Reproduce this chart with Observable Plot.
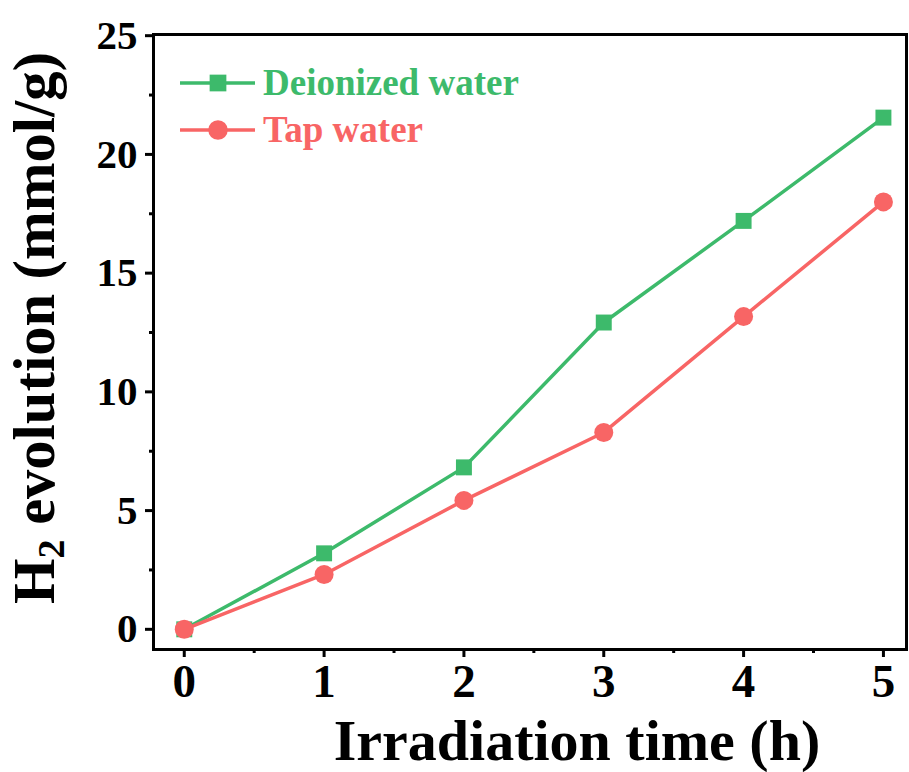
<!DOCTYPE html>
<html>
<head>
<meta charset="utf-8">
<script src="https://cdn.jsdelivr.net/npm/d3@7"></script>
<script src="https://cdn.jsdelivr.net/npm/@observablehq/plot@0.6"></script>
<style>
  body { margin: 0; background: #fff; }
  #chart { position: relative; width: 909px; height: 772px; }
</style>
</head>
<body>
<div id="chart"></div>
<script>
const times = [0, 1, 2, 3, 4, 5];
const deionized = [0, 3.2, 6.82, 12.92, 17.2, 21.55];
const tap = [0, 2.31, 5.43, 8.29, 13.17, 18.0];
const seriesNames = ["Deionized water", "Tap water"];
const seriesColors = ["#3dba6b", "#f86565"];
const yTicks = [0, 5, 10, 15, 20, 25];
const yMinor = [2.5, 7.5, 12.5, 17.5, 22.5];
const xTicks = [0, 1, 2, 3, 4, 5];
const xMinor = [0.5, 1.5, 2.5, 3.5, 4.5];
const xLabel = "Irradiation time (h)";

const rows = [];
times.forEach((t, i) => {
  rows.push({t, v: deionized[i], s: seriesNames[0]});
  rows.push({t, v: tap[i], s: seriesNames[1]});
});
const dRows = rows.filter(d => d.s === seriesNames[0]);
const tRows = rows.filter(d => d.s === seriesNames[1]);

const font = "'Liberation Serif', 'Times New Roman', serif";

const plot = Plot.plot({
  width: 909,
  height: 772,
  marginLeft: 153,
  marginTop: 34,
  marginRight: 3,
  marginBottom: 123,
  style: {fontFamily: font, fontWeight: "bold", background: "white"},
  x: {domain: [-0.22, 5.165]},
  y: {domain: [-0.85, 25.05]},
  marks: [
    Plot.axisY({ticks: yTicks, tickFormat: d3.format("d"), tickSize: 8, tickPadding: 8, fontSize: 41, fontWeight: "bold", strokeWidth: 3, label: null, fill: "black"}),
    Plot.axisY({ticks: yMinor, tickSize: 4, tickFormat: () => "", strokeWidth: 3, label: null}),
    Plot.axisX({ticks: xTicks, tickFormat: d3.format("d"), tickSize: 8, tickPadding: 6, fontSize: 47, fontWeight: "bold", strokeWidth: 3, label: null, fill: "black"}),
    Plot.axisX({ticks: xMinor, tickSize: 4, tickFormat: () => "", strokeWidth: 3, label: null}),
    Plot.line(dRows, {x: "t", y: "v", stroke: seriesColors[0], strokeWidth: 3.5}),
    Plot.line(tRows, {x: "t", y: "v", stroke: seriesColors[1], strokeWidth: 3.5}),
    Plot.dot(dRows, {x: "t", y: "v", symbol: "square", r: 9, fill: seriesColors[0], stroke: "none"}),
    Plot.dot(tRows, {x: "t", y: "v", symbol: "circle", r: 9.5, fill: seriesColors[1], stroke: "none"}),
    Plot.frame({stroke: "black", strokeWidth: 3})
  ]
});

document.getElementById("chart").appendChild(plot);
const svg = d3.select(plot);

// Axis labels
svg.append("text")
  .attr("x", 577).attr("y", 760)
  .attr("text-anchor", "middle")
  .attr("font-family", font).attr("font-weight", "bold").attr("font-size", 58)
  .attr("fill", "black")
  .text(xLabel);

const yl = svg.append("text")
  .attr("transform", "translate(54,328) rotate(-90)")
  .attr("text-anchor", "middle")
  .attr("font-family", font).attr("font-weight", "bold").attr("font-size", 58.5)
  .attr("fill", "black");
yl.append("tspan").text("H");
yl.append("tspan").attr("font-size", 38).attr("dy", 10).text("2");
yl.append("tspan").attr("dy", -10).text(" evolution (mmol/g)");

// Legend
const legendY = [83, 130];
const symbols = [d3.symbolSquare, d3.symbolCircle];
seriesNames.forEach((name, i) => {
  const g = svg.append("g").attr("transform", `translate(0,${legendY[i]})`);
  g.append("line").attr("x1", 180).attr("x2", 255).attr("y1", 0).attr("y2", 0)
    .attr("stroke", seriesColors[i]).attr("stroke-width", 3.5);
  g.append("path").attr("transform", "translate(218,0)")
    .attr("d", d3.symbol(symbols[i], i === 0 ? 280 : 300)())
    .attr("fill", seriesColors[i]);
  g.append("text").attr("x", 263).attr("y", 12)
    .attr("text-anchor", "start")
    .attr("font-family", font).attr("font-weight", "bold").attr("font-size", 37)
    .attr("fill", seriesColors[i]).text(name);
});
</script>
</body>
</html>
